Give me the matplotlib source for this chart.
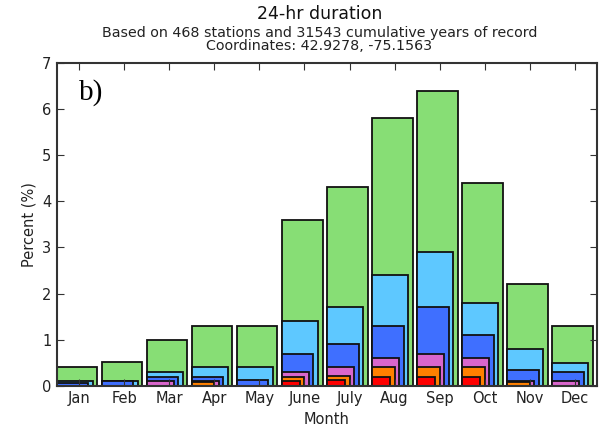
import matplotlib
matplotlib.use('Agg')
import matplotlib.pyplot as plt
import numpy as np

plt.rcParams['font.family'] = ['DejaVu Sans']

# 月份与各层数值（百分比）
months = ['Jan', 'Feb', 'Mar', 'Apr', 'May', 'June', 'July', 'Aug', 'Sep', 'Oct', 'Nov', 'Dec']
green = [0.4, 0.52, 1.0, 1.3, 1.3, 3.6, 4.3, 5.8, 6.4, 4.4, 2.2, 1.3]
light_blue = [0.1, 0.1, 0.3, 0.4, 0.4, 1.4, 1.7, 2.4, 2.9, 1.8, 0.8, 0.5]
blue = [0.07, 0.1, 0.2, 0.2, 0.12, 0.7, 0.9, 1.3, 1.7, 1.1, 0.35, 0.3]
purple = [0.0, 0.0, 0.1, 0.1, 0.0, 0.3, 0.4, 0.6, 0.7, 0.6, 0.1, 0.1]
orange = [0.0, 0.0, 0.0, 0.08, 0.0, 0.2, 0.22, 0.4, 0.4, 0.4, 0.09, 0.0]
red = [0.0, 0.0, 0.0, 0.0, 0.0, 0.1, 0.12, 0.2, 0.2, 0.2, 0.0, 0.0]

layers = [
    (green, '#87DE75', 0.9),
    (light_blue, '#5EC8FF', 0.8),
    (blue, '#3F6FFF', 0.7),
    (purple, '#D966CC', 0.6),
    (orange, '#FF8000', 0.5),
    (red, '#FF0000', 0.4),
]

fig = plt.figure(figsize=(6.05, 4.34), dpi=100)
ax = fig.add_axes([0.094, 0.111, 0.893, 0.744])

x = np.arange(len(months))
for vals, col, w in layers:
    ax.bar(x, vals, width=w, align='edge', color=col, edgecolor='#111111', linewidth=1.3)

ax.set_xlim(0, 12)
ax.set_ylim(0, 7)
ax.set_xticks(x + 0.5)
ax.set_xticklabels(months, fontsize=10)
ax.set_yticks(range(0, 8))
ax.tick_params(axis='both', direction='in', length=5, top=True, right=True, labelsize=10.5, pad=4,
               colors='#333333', labelcolor='#222222')
for s in ax.spines.values():
    s.set_linewidth(1.5)
    s.set_color('#333333')

ax.set_xlabel('Month', fontsize=10.5, color='#222222')
ax.set_ylabel('Percent (%)', fontsize=10.5, color='#222222')

ax.text(0.04, 0.95, 'b)', transform=ax.transAxes, fontsize=21, family='Liberation Serif', va='top')

fig.text(0.528, 0.968, '24-hr duration', ha='center', va='center', fontsize=12.5, color='#111111')
fig.text(0.528, 0.924, 'Based on 468 stations and 31543 cumulative years of record', ha='center', va='center',
         fontsize=10.3, color='#222222')
fig.text(0.528, 0.893, 'Coordinates: 42.9278, -75.1563', ha='center', va='center', fontsize=10.3, color='#222222')

fig.savefig('out.png', dpi=100)
